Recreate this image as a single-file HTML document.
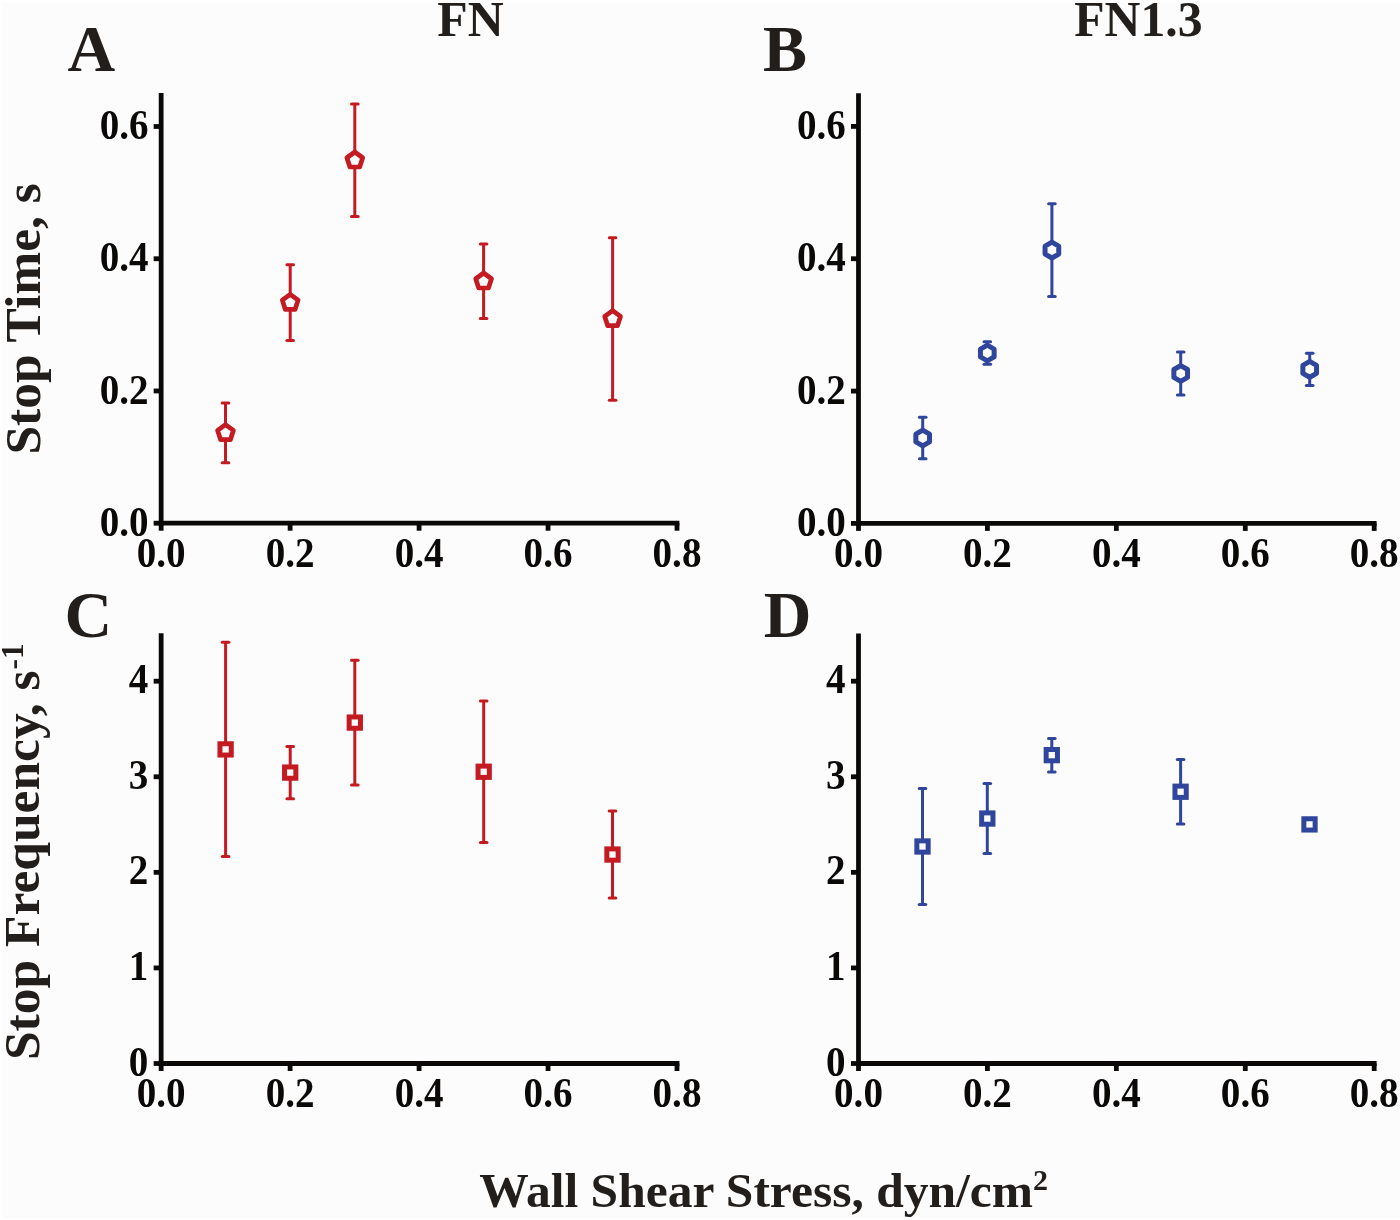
<!DOCTYPE html>
<html><head><meta charset="utf-8"><style>
html,body{margin:0;padding:0;background:#ffffff;}
svg{display:block;will-change:transform;}
text{font-family:"Liberation Serif",serif;font-weight:bold;fill:#221e1b;}
.tl{font-size:41.8px;fill:#0b0908;}
.pl{font-size:66px;}
.tt{font-size:50.6px;}
.at{font-size:51.5px;}
.xt{font-size:49.5px;}
.sup{font-size:30px;}
.sup2{font-size:31.5px;}
</style></head><body>
<svg width="1400" height="1220" viewBox="0 0 1400 1220">
<rect x="0" y="0" width="1400" height="1220" fill="#ffffff"/>
<rect x="2.5" y="2.5" width="1397.5" height="1215.5" fill="#fcfcfc"/>
<line x1="161.15" y1="93.1" x2="161.15" y2="525.6" stroke="#0b0908" stroke-width="4.8"/>
<line x1="158.75" y1="523.2" x2="679.4" y2="523.2" stroke="#0b0908" stroke-width="4.8"/>
<line x1="161.15" y1="523.2" x2="161.15" y2="530.7" stroke="#0b0908" stroke-width="4.8"/>
<text transform="translate(161.15,566.8) scale(0.935,1)" class="tl" text-anchor="middle">0.0</text>
<line x1="290.11" y1="523.2" x2="290.11" y2="530.7" stroke="#0b0908" stroke-width="4.8"/>
<text transform="translate(290.11,566.8) scale(0.935,1)" class="tl" text-anchor="middle">0.2</text>
<line x1="419.08" y1="523.2" x2="419.08" y2="530.7" stroke="#0b0908" stroke-width="4.8"/>
<text transform="translate(419.08,566.8) scale(0.935,1)" class="tl" text-anchor="middle">0.4</text>
<line x1="548.04" y1="523.2" x2="548.04" y2="530.7" stroke="#0b0908" stroke-width="4.8"/>
<text transform="translate(548.04,566.8) scale(0.935,1)" class="tl" text-anchor="middle">0.6</text>
<line x1="677.00" y1="523.2" x2="677.00" y2="530.7" stroke="#0b0908" stroke-width="4.8"/>
<text transform="translate(677.00,566.8) scale(0.935,1)" class="tl" text-anchor="middle">0.8</text>
<line x1="153.65" y1="523.20" x2="161.15" y2="523.20" stroke="#0b0908" stroke-width="4.8"/>
<text transform="translate(148.5,535.80) scale(0.935,1)" class="tl" text-anchor="end">0.0</text>
<line x1="153.65" y1="390.97" x2="161.15" y2="390.97" stroke="#0b0908" stroke-width="4.8"/>
<text transform="translate(148.5,403.57) scale(0.935,1)" class="tl" text-anchor="end">0.2</text>
<line x1="153.65" y1="258.73" x2="161.15" y2="258.73" stroke="#0b0908" stroke-width="4.8"/>
<text transform="translate(148.5,271.33) scale(0.935,1)" class="tl" text-anchor="end">0.4</text>
<line x1="153.65" y1="126.50" x2="161.15" y2="126.50" stroke="#0b0908" stroke-width="4.8"/>
<text transform="translate(148.5,139.10) scale(0.935,1)" class="tl" text-anchor="end">0.6</text>
<line x1="858.5" y1="93.3" x2="858.5" y2="525.8" stroke="#0b0908" stroke-width="4.8"/>
<line x1="856.1" y1="523.4" x2="1376.6000000000001" y2="523.4" stroke="#0b0908" stroke-width="4.8"/>
<line x1="858.50" y1="523.4" x2="858.50" y2="530.9" stroke="#0b0908" stroke-width="4.8"/>
<text transform="translate(858.50,566.8) scale(0.935,1)" class="tl" text-anchor="middle">0.0</text>
<line x1="987.42" y1="523.4" x2="987.42" y2="530.9" stroke="#0b0908" stroke-width="4.8"/>
<text transform="translate(987.42,566.8) scale(0.935,1)" class="tl" text-anchor="middle">0.2</text>
<line x1="1116.35" y1="523.4" x2="1116.35" y2="530.9" stroke="#0b0908" stroke-width="4.8"/>
<text transform="translate(1116.35,566.8) scale(0.935,1)" class="tl" text-anchor="middle">0.4</text>
<line x1="1245.28" y1="523.4" x2="1245.28" y2="530.9" stroke="#0b0908" stroke-width="4.8"/>
<text transform="translate(1245.28,566.8) scale(0.935,1)" class="tl" text-anchor="middle">0.6</text>
<line x1="1374.20" y1="523.4" x2="1374.20" y2="530.9" stroke="#0b0908" stroke-width="4.8"/>
<text transform="translate(1374.20,566.8) scale(0.935,1)" class="tl" text-anchor="middle">0.8</text>
<line x1="851.0" y1="523.40" x2="858.5" y2="523.40" stroke="#0b0908" stroke-width="4.8"/>
<text transform="translate(845.8,536.00) scale(0.935,1)" class="tl" text-anchor="end">0.0</text>
<line x1="851.0" y1="391.07" x2="858.5" y2="391.07" stroke="#0b0908" stroke-width="4.8"/>
<text transform="translate(845.8,403.67) scale(0.935,1)" class="tl" text-anchor="end">0.2</text>
<line x1="851.0" y1="258.73" x2="858.5" y2="258.73" stroke="#0b0908" stroke-width="4.8"/>
<text transform="translate(845.8,271.33) scale(0.935,1)" class="tl" text-anchor="end">0.4</text>
<line x1="851.0" y1="126.40" x2="858.5" y2="126.40" stroke="#0b0908" stroke-width="4.8"/>
<text transform="translate(845.8,139.00) scale(0.935,1)" class="tl" text-anchor="end">0.6</text>
<line x1="161.15" y1="633.3" x2="161.15" y2="1065.9" stroke="#0b0908" stroke-width="4.8"/>
<line x1="158.75" y1="1063.5" x2="679.4" y2="1063.5" stroke="#0b0908" stroke-width="4.8"/>
<line x1="161.15" y1="1063.5" x2="161.15" y2="1071.0" stroke="#0b0908" stroke-width="4.8"/>
<text transform="translate(161.15,1107.4) scale(0.935,1)" class="tl" text-anchor="middle">0.0</text>
<line x1="290.11" y1="1063.5" x2="290.11" y2="1071.0" stroke="#0b0908" stroke-width="4.8"/>
<text transform="translate(290.11,1107.4) scale(0.935,1)" class="tl" text-anchor="middle">0.2</text>
<line x1="419.08" y1="1063.5" x2="419.08" y2="1071.0" stroke="#0b0908" stroke-width="4.8"/>
<text transform="translate(419.08,1107.4) scale(0.935,1)" class="tl" text-anchor="middle">0.4</text>
<line x1="548.04" y1="1063.5" x2="548.04" y2="1071.0" stroke="#0b0908" stroke-width="4.8"/>
<text transform="translate(548.04,1107.4) scale(0.935,1)" class="tl" text-anchor="middle">0.6</text>
<line x1="677.00" y1="1063.5" x2="677.00" y2="1071.0" stroke="#0b0908" stroke-width="4.8"/>
<text transform="translate(677.00,1107.4) scale(0.935,1)" class="tl" text-anchor="middle">0.8</text>
<line x1="153.65" y1="1063.50" x2="161.15" y2="1063.50" stroke="#0b0908" stroke-width="4.8"/>
<text transform="translate(148.3,1075.50) scale(0.935,1)" class="tl" text-anchor="end">0</text>
<line x1="153.65" y1="967.92" x2="161.15" y2="967.92" stroke="#0b0908" stroke-width="4.8"/>
<text transform="translate(148.3,979.92) scale(0.935,1)" class="tl" text-anchor="end">1</text>
<line x1="153.65" y1="872.35" x2="161.15" y2="872.35" stroke="#0b0908" stroke-width="4.8"/>
<text transform="translate(148.3,884.35) scale(0.935,1)" class="tl" text-anchor="end">2</text>
<line x1="153.65" y1="776.78" x2="161.15" y2="776.78" stroke="#0b0908" stroke-width="4.8"/>
<text transform="translate(148.3,788.78) scale(0.935,1)" class="tl" text-anchor="end">3</text>
<line x1="153.65" y1="681.20" x2="161.15" y2="681.20" stroke="#0b0908" stroke-width="4.8"/>
<text transform="translate(148.3,693.20) scale(0.935,1)" class="tl" text-anchor="end">4</text>
<line x1="858.5" y1="633.6" x2="858.5" y2="1065.9" stroke="#0b0908" stroke-width="4.8"/>
<line x1="856.1" y1="1063.5" x2="1376.6000000000001" y2="1063.5" stroke="#0b0908" stroke-width="4.8"/>
<line x1="858.50" y1="1063.5" x2="858.50" y2="1071.0" stroke="#0b0908" stroke-width="4.8"/>
<text transform="translate(858.50,1107.4) scale(0.935,1)" class="tl" text-anchor="middle">0.0</text>
<line x1="987.42" y1="1063.5" x2="987.42" y2="1071.0" stroke="#0b0908" stroke-width="4.8"/>
<text transform="translate(987.42,1107.4) scale(0.935,1)" class="tl" text-anchor="middle">0.2</text>
<line x1="1116.35" y1="1063.5" x2="1116.35" y2="1071.0" stroke="#0b0908" stroke-width="4.8"/>
<text transform="translate(1116.35,1107.4) scale(0.935,1)" class="tl" text-anchor="middle">0.4</text>
<line x1="1245.28" y1="1063.5" x2="1245.28" y2="1071.0" stroke="#0b0908" stroke-width="4.8"/>
<text transform="translate(1245.28,1107.4) scale(0.935,1)" class="tl" text-anchor="middle">0.6</text>
<line x1="1374.20" y1="1063.5" x2="1374.20" y2="1071.0" stroke="#0b0908" stroke-width="4.8"/>
<text transform="translate(1374.20,1107.4) scale(0.935,1)" class="tl" text-anchor="middle">0.8</text>
<line x1="851.0" y1="1063.50" x2="858.5" y2="1063.50" stroke="#0b0908" stroke-width="4.8"/>
<text transform="translate(845.6,1075.50) scale(0.935,1)" class="tl" text-anchor="end">0</text>
<line x1="851.0" y1="967.92" x2="858.5" y2="967.92" stroke="#0b0908" stroke-width="4.8"/>
<text transform="translate(845.6,979.92) scale(0.935,1)" class="tl" text-anchor="end">1</text>
<line x1="851.0" y1="872.35" x2="858.5" y2="872.35" stroke="#0b0908" stroke-width="4.8"/>
<text transform="translate(845.6,884.35) scale(0.935,1)" class="tl" text-anchor="end">2</text>
<line x1="851.0" y1="776.78" x2="858.5" y2="776.78" stroke="#0b0908" stroke-width="4.8"/>
<text transform="translate(845.6,788.78) scale(0.935,1)" class="tl" text-anchor="end">3</text>
<line x1="851.0" y1="681.20" x2="858.5" y2="681.20" stroke="#0b0908" stroke-width="4.8"/>
<text transform="translate(845.6,693.20) scale(0.935,1)" class="tl" text-anchor="end">4</text>
<line x1="225.5" y1="403.1" x2="225.5" y2="462.8" stroke="#c41a21" stroke-width="3"/>
<line x1="222.2" y1="403.1" x2="228.8" y2="403.1" stroke="#c41a21" stroke-width="3" stroke-linecap="round"/>
<line x1="222.2" y1="462.8" x2="228.8" y2="462.8" stroke="#c41a21" stroke-width="3" stroke-linecap="round"/>
<polygon points="225.50,424.70 233.39,430.44 230.38,439.71 220.62,439.71 217.61,430.44" fill="#fcfcfc" stroke="#c41a21" stroke-width="4.7" stroke-linejoin="round"/>
<line x1="290.2" y1="264.75" x2="290.2" y2="340.6" stroke="#c41a21" stroke-width="3"/>
<line x1="286.9" y1="264.75" x2="293.5" y2="264.75" stroke="#c41a21" stroke-width="3" stroke-linecap="round"/>
<line x1="286.9" y1="340.6" x2="293.5" y2="340.6" stroke="#c41a21" stroke-width="3" stroke-linecap="round"/>
<polygon points="290.20,294.40 298.09,300.14 295.08,309.41 285.32,309.41 282.31,300.14" fill="#fcfcfc" stroke="#c41a21" stroke-width="4.7" stroke-linejoin="round"/>
<line x1="354.8" y1="104" x2="354.8" y2="216.6" stroke="#c41a21" stroke-width="3"/>
<line x1="351.5" y1="104" x2="358.1" y2="104" stroke="#c41a21" stroke-width="3" stroke-linecap="round"/>
<line x1="351.5" y1="216.6" x2="358.1" y2="216.6" stroke="#c41a21" stroke-width="3" stroke-linecap="round"/>
<polygon points="354.80,152.00 362.69,157.74 359.68,167.01 349.92,167.01 346.91,157.74" fill="#fcfcfc" stroke="#c41a21" stroke-width="4.7" stroke-linejoin="round"/>
<line x1="483.6" y1="244.1" x2="483.6" y2="318.5" stroke="#c41a21" stroke-width="3"/>
<line x1="480.3" y1="244.1" x2="486.90000000000003" y2="244.1" stroke="#c41a21" stroke-width="3" stroke-linecap="round"/>
<line x1="480.3" y1="318.5" x2="486.90000000000003" y2="318.5" stroke="#c41a21" stroke-width="3" stroke-linecap="round"/>
<polygon points="483.60,273.00 491.49,278.74 488.48,288.01 478.72,288.01 475.71,278.74" fill="#fcfcfc" stroke="#c41a21" stroke-width="4.7" stroke-linejoin="round"/>
<line x1="612.6" y1="237.8" x2="612.6" y2="400.2" stroke="#c41a21" stroke-width="3"/>
<line x1="609.3000000000001" y1="237.8" x2="615.9" y2="237.8" stroke="#c41a21" stroke-width="3" stroke-linecap="round"/>
<line x1="609.3000000000001" y1="400.2" x2="615.9" y2="400.2" stroke="#c41a21" stroke-width="3" stroke-linecap="round"/>
<polygon points="612.60,310.70 620.49,316.44 617.48,325.71 607.72,325.71 604.71,316.44" fill="#fcfcfc" stroke="#c41a21" stroke-width="4.7" stroke-linejoin="round"/>
<line x1="922.7" y1="417.2" x2="922.7" y2="458.8" stroke="#2f469c" stroke-width="3"/>
<line x1="919.4000000000001" y1="417.2" x2="926.0" y2="417.2" stroke="#2f469c" stroke-width="3" stroke-linecap="round"/>
<line x1="919.4000000000001" y1="458.8" x2="926.0" y2="458.8" stroke="#2f469c" stroke-width="3" stroke-linecap="round"/>
<polygon points="922.70,430.10 929.54,434.05 929.54,441.95 922.70,445.90 915.86,441.95 915.86,434.05" fill="#fcfcfc" stroke="#2f469c" stroke-width="5" stroke-linejoin="round"/>
<line x1="987.3" y1="341.8" x2="987.3" y2="364.3" stroke="#2f469c" stroke-width="3"/>
<line x1="984.0" y1="341.8" x2="990.5999999999999" y2="341.8" stroke="#2f469c" stroke-width="3" stroke-linecap="round"/>
<line x1="984.0" y1="364.3" x2="990.5999999999999" y2="364.3" stroke="#2f469c" stroke-width="3" stroke-linecap="round"/>
<polygon points="987.30,345.10 994.14,349.05 994.14,356.95 987.30,360.90 980.46,356.95 980.46,349.05" fill="#fcfcfc" stroke="#2f469c" stroke-width="5" stroke-linejoin="round"/>
<line x1="1051.9" y1="203.8" x2="1051.9" y2="296.4" stroke="#2f469c" stroke-width="3"/>
<line x1="1048.6000000000001" y1="203.8" x2="1055.2" y2="203.8" stroke="#2f469c" stroke-width="3" stroke-linecap="round"/>
<line x1="1048.6000000000001" y1="296.4" x2="1055.2" y2="296.4" stroke="#2f469c" stroke-width="3" stroke-linecap="round"/>
<polygon points="1051.90,242.20 1058.74,246.15 1058.74,254.05 1051.90,258.00 1045.06,254.05 1045.06,246.15" fill="#fcfcfc" stroke="#2f469c" stroke-width="5" stroke-linejoin="round"/>
<line x1="1180.7" y1="351.9" x2="1180.7" y2="395" stroke="#2f469c" stroke-width="3"/>
<line x1="1177.4" y1="351.9" x2="1184.0" y2="351.9" stroke="#2f469c" stroke-width="3" stroke-linecap="round"/>
<line x1="1177.4" y1="395" x2="1184.0" y2="395" stroke="#2f469c" stroke-width="3" stroke-linecap="round"/>
<polygon points="1180.70,365.55 1187.54,369.50 1187.54,377.40 1180.70,381.35 1173.86,377.40 1173.86,369.50" fill="#fcfcfc" stroke="#2f469c" stroke-width="5" stroke-linejoin="round"/>
<line x1="1309.7" y1="353.2" x2="1309.7" y2="385.5" stroke="#2f469c" stroke-width="3"/>
<line x1="1306.4" y1="353.2" x2="1313.0" y2="353.2" stroke="#2f469c" stroke-width="3" stroke-linecap="round"/>
<line x1="1306.4" y1="385.5" x2="1313.0" y2="385.5" stroke="#2f469c" stroke-width="3" stroke-linecap="round"/>
<polygon points="1309.70,361.45 1316.54,365.40 1316.54,373.30 1309.70,377.25 1302.86,373.30 1302.86,365.40" fill="#fcfcfc" stroke="#2f469c" stroke-width="5" stroke-linejoin="round"/>
<line x1="225.6" y1="642.2" x2="225.6" y2="856.6" stroke="#c41a21" stroke-width="3"/>
<line x1="222.29999999999998" y1="642.2" x2="228.9" y2="642.2" stroke="#c41a21" stroke-width="3" stroke-linecap="round"/>
<line x1="222.29999999999998" y1="856.6" x2="228.9" y2="856.6" stroke="#c41a21" stroke-width="3" stroke-linecap="round"/>
<rect x="219.95" y="743.75" width="11.3" height="11.3" fill="#fcfcfc" stroke="#c41a21" stroke-width="5.0"/>
<line x1="290.2" y1="746.5" x2="290.2" y2="798.7" stroke="#c41a21" stroke-width="3"/>
<line x1="286.9" y1="746.5" x2="293.5" y2="746.5" stroke="#c41a21" stroke-width="3" stroke-linecap="round"/>
<line x1="286.9" y1="798.7" x2="293.5" y2="798.7" stroke="#c41a21" stroke-width="3" stroke-linecap="round"/>
<rect x="284.55" y="766.95" width="11.3" height="11.3" fill="#fcfcfc" stroke="#c41a21" stroke-width="5.0"/>
<line x1="354.8" y1="660.2" x2="354.8" y2="785" stroke="#c41a21" stroke-width="3"/>
<line x1="351.5" y1="660.2" x2="358.1" y2="660.2" stroke="#c41a21" stroke-width="3" stroke-linecap="round"/>
<line x1="351.5" y1="785" x2="358.1" y2="785" stroke="#c41a21" stroke-width="3" stroke-linecap="round"/>
<rect x="349.15" y="716.95" width="11.3" height="11.3" fill="#fcfcfc" stroke="#c41a21" stroke-width="5.0"/>
<line x1="483.7" y1="701" x2="483.7" y2="842.5" stroke="#c41a21" stroke-width="3"/>
<line x1="480.4" y1="701" x2="487.0" y2="701" stroke="#c41a21" stroke-width="3" stroke-linecap="round"/>
<line x1="480.4" y1="842.5" x2="487.0" y2="842.5" stroke="#c41a21" stroke-width="3" stroke-linecap="round"/>
<rect x="478.05" y="766.10" width="11.3" height="11.3" fill="#fcfcfc" stroke="#c41a21" stroke-width="5.0"/>
<line x1="612.5" y1="811.1" x2="612.5" y2="898" stroke="#c41a21" stroke-width="3"/>
<line x1="609.2" y1="811.1" x2="615.8" y2="811.1" stroke="#c41a21" stroke-width="3" stroke-linecap="round"/>
<line x1="609.2" y1="898" x2="615.8" y2="898" stroke="#c41a21" stroke-width="3" stroke-linecap="round"/>
<rect x="606.85" y="848.90" width="11.3" height="11.3" fill="#fcfcfc" stroke="#c41a21" stroke-width="5.0"/>
<line x1="922.5" y1="788.4" x2="922.5" y2="904.6" stroke="#2f469c" stroke-width="3"/>
<line x1="919.2" y1="788.4" x2="925.8" y2="788.4" stroke="#2f469c" stroke-width="3" stroke-linecap="round"/>
<line x1="919.2" y1="904.6" x2="925.8" y2="904.6" stroke="#2f469c" stroke-width="3" stroke-linecap="round"/>
<rect x="916.85" y="840.85" width="11.3" height="11.3" fill="#fcfcfc" stroke="#2f469c" stroke-width="5.0"/>
<line x1="987.3" y1="783.5" x2="987.3" y2="853.6" stroke="#2f469c" stroke-width="3"/>
<line x1="984.0" y1="783.5" x2="990.5999999999999" y2="783.5" stroke="#2f469c" stroke-width="3" stroke-linecap="round"/>
<line x1="984.0" y1="853.6" x2="990.5999999999999" y2="853.6" stroke="#2f469c" stroke-width="3" stroke-linecap="round"/>
<rect x="981.65" y="812.90" width="11.3" height="11.3" fill="#fcfcfc" stroke="#2f469c" stroke-width="5.0"/>
<line x1="1051.8" y1="738.4" x2="1051.8" y2="771.9" stroke="#2f469c" stroke-width="3"/>
<line x1="1048.5" y1="738.4" x2="1055.1" y2="738.4" stroke="#2f469c" stroke-width="3" stroke-linecap="round"/>
<line x1="1048.5" y1="771.9" x2="1055.1" y2="771.9" stroke="#2f469c" stroke-width="3" stroke-linecap="round"/>
<rect x="1046.15" y="749.50" width="11.3" height="11.3" fill="#fcfcfc" stroke="#2f469c" stroke-width="5.0"/>
<line x1="1180.6" y1="759.4" x2="1180.6" y2="824.1" stroke="#2f469c" stroke-width="3"/>
<line x1="1177.3" y1="759.4" x2="1183.8999999999999" y2="759.4" stroke="#2f469c" stroke-width="3" stroke-linecap="round"/>
<line x1="1177.3" y1="824.1" x2="1183.8999999999999" y2="824.1" stroke="#2f469c" stroke-width="3" stroke-linecap="round"/>
<rect x="1174.95" y="786.10" width="11.3" height="11.3" fill="#fcfcfc" stroke="#2f469c" stroke-width="5.0"/>
<rect x="1303.85" y="818.75" width="11.3" height="11.3" fill="#fcfcfc" stroke="#2f469c" stroke-width="5.0"/>
<text x="67.5" y="71" class="pl">A</text>
<text x="763" y="71" class="pl">B</text>
<text x="64.4" y="636.7" class="pl">C</text>
<text x="763.8" y="636.6" class="pl">D</text>
<text transform="translate(437.2,36.2) scale(0.985,1)" class="tt">FN</text>
<text transform="translate(1074.2,36.2) scale(0.982,1)" class="tt">FN1.3</text>
<text transform="translate(39.8,318.9) rotate(-90)" class="at" text-anchor="middle">Stop Time, s</text>
<text transform="translate(39.3,851.6) rotate(-90)" class="at" text-anchor="middle">Stop Frequency, s<tspan class="sup2" dx="1" dy="-16.5">-1</tspan></text>
<text x="763.6" y="1206.6" class="xt" text-anchor="middle">Wall Shear Stress, dyn/cm<tspan class="sup" dy="-16.4">2</tspan></text>
</svg>
</body></html>
